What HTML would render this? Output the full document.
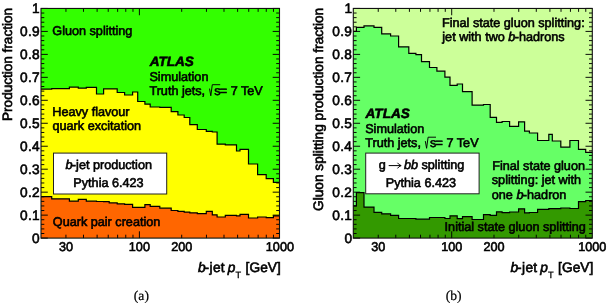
<!DOCTYPE html><html><head><meta charset="utf-8"><title>plot</title>
<style>html,body{margin:0;padding:0;background:#fff;}svg{display:block;will-change:transform}text{font-family:"Liberation Sans",sans-serif;fill:#000;stroke:#000;stroke-width:0.6px;text-rendering:geometricPrecision}</style></head><body>
<svg width="609" height="304" viewBox="0 0 609 304">
<rect width="609" height="304" fill="#fff"/>
<rect x="41.0" y="8.45" width="238.5" height="229.65" fill="#33ff00"/>
<path d="M41.00,238.10 L41.00,89.10 L44.10,89.10 L44.10,89.10 L51.70,89.10 L51.70,88.70 L61.70,88.70 L61.70,88.70 L69.40,88.70 L69.40,87.10 L78.30,87.10 L78.30,88.20 L86.30,88.20 L86.30,87.40 L96.50,87.40 L96.50,94.00 L103.60,94.00 L103.60,88.90 L109.20,88.90 L109.20,88.90 L117.20,88.90 L117.20,92.50 L124.60,92.50 L124.60,95.00 L132.60,95.00 L132.60,92.00 L137.70,92.00 L137.70,101.50 L144.90,101.50 L144.90,104.20 L150.20,104.20 L150.20,107.00 L159.80,107.00 L159.80,107.40 L171.20,107.40 L171.20,111.70 L177.90,111.70 L177.90,115.00 L184.20,115.00 L184.20,117.50 L189.80,117.50 L189.80,124.60 L197.30,124.60 L197.30,129.50 L206.30,129.50 L206.30,131.40 L212.30,131.40 L212.30,132.00 L217.10,132.00 L217.10,144.20 L225.30,144.20 L225.30,144.90 L236.50,144.90 L236.50,151.00 L240.00,151.00 L240.00,149.40 L248.50,149.40 L248.50,164.00 L257.60,164.00 L257.60,174.60 L266.20,174.60 L266.20,178.60 L273.40,178.60 L273.40,182.40 L279.50,182.40 L279.50,238.10 Z" fill="#ffff00"/>
<path d="M41.00,238.10 L41.00,196.70 L44.10,196.70 L44.10,196.70 L51.70,196.70 L51.70,198.80 L61.70,198.80 L61.70,198.80 L69.40,198.80 L69.40,201.10 L78.30,201.10 L78.30,199.30 L86.30,199.30 L86.30,201.10 L96.50,201.10 L96.50,201.50 L103.60,201.50 L103.60,201.60 L109.20,201.60 L109.20,202.90 L117.20,202.90 L117.20,203.80 L124.60,203.80 L124.60,204.30 L132.60,204.30 L132.60,207.40 L137.70,207.40 L137.70,207.40 L144.90,207.40 L144.90,204.60 L150.20,204.60 L150.20,206.30 L159.80,206.30 L159.80,208.20 L171.20,208.20 L171.20,210.50 L177.90,210.50 L177.90,211.40 L184.20,211.40 L184.20,212.10 L189.80,212.10 L189.80,212.80 L197.30,212.80 L197.30,213.70 L206.30,213.70 L206.30,211.40 L212.30,211.40 L212.30,214.80 L217.10,214.80 L217.10,217.00 L225.30,217.00 L225.30,215.40 L236.50,215.40 L236.50,215.90 L240.00,215.90 L240.00,214.30 L248.50,214.30 L248.50,218.00 L257.60,218.00 L257.60,217.00 L266.20,217.00 L266.20,217.70 L273.40,217.70 L273.40,215.80 L279.50,215.80 L279.50,238.10 Z" fill="#ff6600"/>
<path d="M41.00,89.10 L44.10,89.10 L44.10,89.10 L51.70,89.10 L51.70,88.70 L61.70,88.70 L61.70,88.70 L69.40,88.70 L69.40,87.10 L78.30,87.10 L78.30,88.20 L86.30,88.20 L86.30,87.40 L96.50,87.40 L96.50,94.00 L103.60,94.00 L103.60,88.90 L109.20,88.90 L109.20,88.90 L117.20,88.90 L117.20,92.50 L124.60,92.50 L124.60,95.00 L132.60,95.00 L132.60,92.00 L137.70,92.00 L137.70,101.50 L144.90,101.50 L144.90,104.20 L150.20,104.20 L150.20,107.00 L159.80,107.00 L159.80,107.40 L171.20,107.40 L171.20,111.70 L177.90,111.70 L177.90,115.00 L184.20,115.00 L184.20,117.50 L189.80,117.50 L189.80,124.60 L197.30,124.60 L197.30,129.50 L206.30,129.50 L206.30,131.40 L212.30,131.40 L212.30,132.00 L217.10,132.00 L217.10,144.20 L225.30,144.20 L225.30,144.90 L236.50,144.90 L236.50,151.00 L240.00,151.00 L240.00,149.40 L248.50,149.40 L248.50,164.00 L257.60,164.00 L257.60,174.60 L266.20,174.60 L266.20,178.60 L273.40,178.60 L273.40,182.40 L279.50,182.40" fill="none" stroke="#000" stroke-width="1.2" stroke-linejoin="miter"/>
<path d="M41.00,196.70 L44.10,196.70 L44.10,196.70 L51.70,196.70 L51.70,198.80 L61.70,198.80 L61.70,198.80 L69.40,198.80 L69.40,201.10 L78.30,201.10 L78.30,199.30 L86.30,199.30 L86.30,201.10 L96.50,201.10 L96.50,201.50 L103.60,201.50 L103.60,201.60 L109.20,201.60 L109.20,202.90 L117.20,202.90 L117.20,203.80 L124.60,203.80 L124.60,204.30 L132.60,204.30 L132.60,207.40 L137.70,207.40 L137.70,207.40 L144.90,207.40 L144.90,204.60 L150.20,204.60 L150.20,206.30 L159.80,206.30 L159.80,208.20 L171.20,208.20 L171.20,210.50 L177.90,210.50 L177.90,211.40 L184.20,211.40 L184.20,212.10 L189.80,212.10 L189.80,212.80 L197.30,212.80 L197.30,213.70 L206.30,213.70 L206.30,211.40 L212.30,211.40 L212.30,214.80 L217.10,214.80 L217.10,217.00 L225.30,217.00 L225.30,215.40 L236.50,215.40 L236.50,215.90 L240.00,215.90 L240.00,214.30 L248.50,214.30 L248.50,218.00 L257.60,218.00 L257.60,217.00 L266.20,217.00 L266.20,217.70 L273.40,217.70 L273.40,215.80 L279.50,215.80" fill="none" stroke="#000" stroke-width="1.2" stroke-linejoin="miter"/>
<path d="M41.0,238.10h6.8 M279.5,238.10h-6.8 M41.0,233.51h3.3 M279.5,233.51h-3.3 M41.0,228.91h3.3 M279.5,228.91h-3.3 M41.0,224.32h3.3 M279.5,224.32h-3.3 M41.0,219.73h3.3 M279.5,219.73h-3.3 M41.0,215.13h6.8 M279.5,215.13h-6.8 M41.0,210.54h3.3 M279.5,210.54h-3.3 M41.0,205.95h3.3 M279.5,205.95h-3.3 M41.0,201.36h3.3 M279.5,201.36h-3.3 M41.0,196.76h3.3 M279.5,196.76h-3.3 M41.0,192.17h6.8 M279.5,192.17h-6.8 M41.0,187.58h3.3 M279.5,187.58h-3.3 M41.0,182.98h3.3 M279.5,182.98h-3.3 M41.0,178.39h3.3 M279.5,178.39h-3.3 M41.0,173.80h3.3 M279.5,173.80h-3.3 M41.0,169.20h6.8 M279.5,169.20h-6.8 M41.0,164.61h3.3 M279.5,164.61h-3.3 M41.0,160.02h3.3 M279.5,160.02h-3.3 M41.0,155.43h3.3 M279.5,155.43h-3.3 M41.0,150.83h3.3 M279.5,150.83h-3.3 M41.0,146.24h6.8 M279.5,146.24h-6.8 M41.0,141.65h3.3 M279.5,141.65h-3.3 M41.0,137.05h3.3 M279.5,137.05h-3.3 M41.0,132.46h3.3 M279.5,132.46h-3.3 M41.0,127.87h3.3 M279.5,127.87h-3.3 M41.0,123.27h6.8 M279.5,123.27h-6.8 M41.0,118.68h3.3 M279.5,118.68h-3.3 M41.0,114.09h3.3 M279.5,114.09h-3.3 M41.0,109.50h3.3 M279.5,109.50h-3.3 M41.0,104.90h3.3 M279.5,104.90h-3.3 M41.0,100.31h6.8 M279.5,100.31h-6.8 M41.0,95.72h3.3 M279.5,95.72h-3.3 M41.0,91.12h3.3 M279.5,91.12h-3.3 M41.0,86.53h3.3 M279.5,86.53h-3.3 M41.0,81.94h3.3 M279.5,81.94h-3.3 M41.0,77.34h6.8 M279.5,77.34h-6.8 M41.0,72.75h3.3 M279.5,72.75h-3.3 M41.0,68.16h3.3 M279.5,68.16h-3.3 M41.0,63.57h3.3 M279.5,63.57h-3.3 M41.0,58.97h3.3 M279.5,58.97h-3.3 M41.0,54.38h6.8 M279.5,54.38h-6.8 M41.0,49.79h3.3 M279.5,49.79h-3.3 M41.0,45.19h3.3 M279.5,45.19h-3.3 M41.0,40.60h3.3 M279.5,40.60h-3.3 M41.0,36.01h3.3 M279.5,36.01h-3.3 M41.0,31.41h6.8 M279.5,31.41h-6.8 M41.0,26.82h3.3 M279.5,26.82h-3.3 M41.0,22.23h3.3 M279.5,22.23h-3.3 M41.0,17.64h3.3 M279.5,17.64h-3.3 M41.0,13.04h3.3 M279.5,13.04h-3.3 M41.0,8.45h6.8 M279.5,8.45h-6.8 M65.94,238.1v-3.4 M65.94,8.45v3.4 M83.49,238.1v-3.4 M83.49,8.45v3.4 M97.11,238.1v-3.4 M97.11,8.45v3.4 M108.23,238.1v-3.4 M108.23,8.45v3.4 M117.64,238.1v-3.4 M117.64,8.45v3.4 M125.78,238.1v-3.4 M125.78,8.45v3.4 M132.97,238.1v-3.4 M132.97,8.45v3.4 M139.40,238.1v-6.8 M139.40,8.45v6.8 M181.69,238.1v-3.4 M181.69,8.45v3.4 M206.44,238.1v-3.4 M206.44,8.45v3.4 M223.99,238.1v-3.4 M223.99,8.45v3.4 M237.61,238.1v-3.4 M237.61,8.45v3.4 M248.73,238.1v-3.4 M248.73,8.45v3.4 M258.14,238.1v-3.4 M258.14,8.45v3.4 M266.28,238.1v-3.4 M266.28,8.45v3.4 M273.47,238.1v-3.4 M273.47,8.45v3.4" stroke="#000" stroke-width="0.95" fill="none"/>
<rect x="41.0" y="8.45" width="238.5" height="229.65" fill="none" stroke="#111" stroke-width="1.1"/>
<text x="40.00" y="242.80" text-anchor="end" font-size="13.7" letter-spacing="0.3">0</text>
<text x="40.00" y="219.83" text-anchor="end" font-size="13.7" letter-spacing="0.3">0.1</text>
<text x="40.00" y="196.87" text-anchor="end" font-size="13.7" letter-spacing="0.3">0.2</text>
<text x="40.00" y="173.90" text-anchor="end" font-size="13.7" letter-spacing="0.3">0.3</text>
<text x="40.00" y="150.94" text-anchor="end" font-size="13.7" letter-spacing="0.3">0.4</text>
<text x="40.00" y="127.97" text-anchor="end" font-size="13.7" letter-spacing="0.3">0.5</text>
<text x="40.00" y="105.01" text-anchor="end" font-size="13.7" letter-spacing="0.3">0.6</text>
<text x="40.00" y="82.05" text-anchor="end" font-size="13.7" letter-spacing="0.3">0.7</text>
<text x="40.00" y="59.08" text-anchor="end" font-size="13.7" letter-spacing="0.3">0.8</text>
<text x="40.00" y="36.11" text-anchor="end" font-size="13.7" letter-spacing="0.3">0.9</text>
<text x="40.00" y="13.15" text-anchor="end" font-size="13.7" letter-spacing="0.3">1</text>
<text x="65.94" y="250.8" text-anchor="middle" font-size="12.65">30</text>
<text x="139.40" y="250.8" text-anchor="middle" font-size="12.65">100</text>
<text x="181.69" y="250.8" text-anchor="middle" font-size="12.65">200</text>
<text x="279.90" y="250.8" text-anchor="middle" font-size="12.65">1000</text>
<text y="272.4" font-size="13.7"><tspan x="197.90" font-style="italic">b</tspan><tspan x="204.60" letter-spacing="0.35">-jet</tspan><tspan x="227.70" font-style="italic">p</tspan><tspan x="235.60" font-size="9.2" dy="5.7" style="stroke-width:0.3px">T</tspan><tspan x="245.50" dy="-5.7" letter-spacing="0.1">[GeV]</tspan></text>
<rect x="353.3" y="8.45" width="238.99999999999994" height="229.65" fill="#ccff99"/>
<path d="M353.30,238.10 L353.30,31.30 L356.40,31.30 L356.40,27.30 L364.00,27.30 L364.00,25.90 L374.00,25.90 L374.00,27.30 L381.70,27.30 L381.70,33.90 L390.60,33.90 L390.60,36.00 L398.60,36.00 L398.60,46.80 L408.80,46.80 L408.80,53.40 L415.90,53.40 L415.90,54.70 L421.50,54.70 L421.50,61.60 L429.50,61.60 L429.50,67.50 L436.90,67.50 L436.90,71.20 L444.90,71.20 L444.90,77.20 L450.00,77.20 L450.00,85.40 L457.20,85.40 L457.20,84.00 L462.50,84.00 L462.50,91.70 L472.10,91.70 L472.10,105.10 L483.50,105.10 L483.50,104.50 L490.20,104.50 L490.20,117.40 L496.50,117.40 L496.50,122.40 L502.10,122.40 L502.10,121.50 L509.60,121.50 L509.60,126.30 L518.60,126.30 L518.60,121.80 L524.60,121.80 L524.60,131.10 L529.40,131.10 L529.40,133.00 L537.60,133.00 L537.60,140.50 L548.80,140.50 L548.80,134.30 L552.30,134.30 L552.30,141.00 L560.80,141.00 L560.80,147.10 L569.90,147.10 L569.90,140.50 L578.50,140.50 L578.50,149.40 L585.70,149.40 L585.70,152.30 L592.30,152.30 L592.30,238.10 Z" fill="#66ff66"/>
<path d="M353.30,238.10 L353.30,205.80 L356.40,205.80 L356.40,192.60 L364.00,192.60 L364.00,207.10 L374.00,207.10 L374.00,212.30 L381.70,212.30 L381.70,213.80 L390.60,213.80 L390.60,215.30 L398.60,215.30 L398.60,218.50 L408.80,218.50 L408.80,218.50 L415.90,218.50 L415.90,219.20 L421.50,219.20 L421.50,219.20 L429.50,219.20 L429.50,217.50 L436.90,217.50 L436.90,217.50 L444.90,217.50 L444.90,218.50 L450.00,218.50 L450.00,215.80 L457.20,215.80 L457.20,218.70 L462.50,218.70 L462.50,216.70 L472.10,216.70 L472.10,219.50 L483.50,219.50 L483.50,214.70 L490.20,214.70 L490.20,215.40 L496.50,215.40 L496.50,211.80 L502.10,211.80 L502.10,212.70 L509.60,212.70 L509.60,212.00 L518.60,212.00 L518.60,208.80 L524.60,208.80 L524.60,212.80 L529.40,212.80 L529.40,212.50 L537.60,212.50 L537.60,209.30 L548.80,209.30 L548.80,208.60 L552.30,208.60 L552.30,208.70 L560.80,208.70 L560.80,208.00 L569.90,208.00 L569.90,208.50 L578.50,208.50 L578.50,201.70 L585.70,201.70 L585.70,200.50 L592.30,200.50 L592.30,238.10 Z" fill="#339900"/>
<path d="M353.30,31.30 L356.40,31.30 L356.40,27.30 L364.00,27.30 L364.00,25.90 L374.00,25.90 L374.00,27.30 L381.70,27.30 L381.70,33.90 L390.60,33.90 L390.60,36.00 L398.60,36.00 L398.60,46.80 L408.80,46.80 L408.80,53.40 L415.90,53.40 L415.90,54.70 L421.50,54.70 L421.50,61.60 L429.50,61.60 L429.50,67.50 L436.90,67.50 L436.90,71.20 L444.90,71.20 L444.90,77.20 L450.00,77.20 L450.00,85.40 L457.20,85.40 L457.20,84.00 L462.50,84.00 L462.50,91.70 L472.10,91.70 L472.10,105.10 L483.50,105.10 L483.50,104.50 L490.20,104.50 L490.20,117.40 L496.50,117.40 L496.50,122.40 L502.10,122.40 L502.10,121.50 L509.60,121.50 L509.60,126.30 L518.60,126.30 L518.60,121.80 L524.60,121.80 L524.60,131.10 L529.40,131.10 L529.40,133.00 L537.60,133.00 L537.60,140.50 L548.80,140.50 L548.80,134.30 L552.30,134.30 L552.30,141.00 L560.80,141.00 L560.80,147.10 L569.90,147.10 L569.90,140.50 L578.50,140.50 L578.50,149.40 L585.70,149.40 L585.70,152.30 L592.30,152.30" fill="none" stroke="#000" stroke-width="1.2" stroke-linejoin="miter"/>
<path d="M353.30,205.80 L356.40,205.80 L356.40,192.60 L364.00,192.60 L364.00,207.10 L374.00,207.10 L374.00,212.30 L381.70,212.30 L381.70,213.80 L390.60,213.80 L390.60,215.30 L398.60,215.30 L398.60,218.50 L408.80,218.50 L408.80,218.50 L415.90,218.50 L415.90,219.20 L421.50,219.20 L421.50,219.20 L429.50,219.20 L429.50,217.50 L436.90,217.50 L436.90,217.50 L444.90,217.50 L444.90,218.50 L450.00,218.50 L450.00,215.80 L457.20,215.80 L457.20,218.70 L462.50,218.70 L462.50,216.70 L472.10,216.70 L472.10,219.50 L483.50,219.50 L483.50,214.70 L490.20,214.70 L490.20,215.40 L496.50,215.40 L496.50,211.80 L502.10,211.80 L502.10,212.70 L509.60,212.70 L509.60,212.00 L518.60,212.00 L518.60,208.80 L524.60,208.80 L524.60,212.80 L529.40,212.80 L529.40,212.50 L537.60,212.50 L537.60,209.30 L548.80,209.30 L548.80,208.60 L552.30,208.60 L552.30,208.70 L560.80,208.70 L560.80,208.00 L569.90,208.00 L569.90,208.50 L578.50,208.50 L578.50,201.70 L585.70,201.70 L585.70,200.50 L592.30,200.50" fill="none" stroke="#000" stroke-width="1.2" stroke-linejoin="miter"/>
<path d="M353.3,238.10h6.8 M592.3,238.10h-6.8 M353.3,233.51h3.3 M592.3,233.51h-3.3 M353.3,228.91h3.3 M592.3,228.91h-3.3 M353.3,224.32h3.3 M592.3,224.32h-3.3 M353.3,219.73h3.3 M592.3,219.73h-3.3 M353.3,215.13h6.8 M592.3,215.13h-6.8 M353.3,210.54h3.3 M592.3,210.54h-3.3 M353.3,205.95h3.3 M592.3,205.95h-3.3 M353.3,201.36h3.3 M592.3,201.36h-3.3 M353.3,196.76h3.3 M592.3,196.76h-3.3 M353.3,192.17h6.8 M592.3,192.17h-6.8 M353.3,187.58h3.3 M592.3,187.58h-3.3 M353.3,182.98h3.3 M592.3,182.98h-3.3 M353.3,178.39h3.3 M592.3,178.39h-3.3 M353.3,173.80h3.3 M592.3,173.80h-3.3 M353.3,169.20h6.8 M592.3,169.20h-6.8 M353.3,164.61h3.3 M592.3,164.61h-3.3 M353.3,160.02h3.3 M592.3,160.02h-3.3 M353.3,155.43h3.3 M592.3,155.43h-3.3 M353.3,150.83h3.3 M592.3,150.83h-3.3 M353.3,146.24h6.8 M592.3,146.24h-6.8 M353.3,141.65h3.3 M592.3,141.65h-3.3 M353.3,137.05h3.3 M592.3,137.05h-3.3 M353.3,132.46h3.3 M592.3,132.46h-3.3 M353.3,127.87h3.3 M592.3,127.87h-3.3 M353.3,123.27h6.8 M592.3,123.27h-6.8 M353.3,118.68h3.3 M592.3,118.68h-3.3 M353.3,114.09h3.3 M592.3,114.09h-3.3 M353.3,109.50h3.3 M592.3,109.50h-3.3 M353.3,104.90h3.3 M592.3,104.90h-3.3 M353.3,100.31h6.8 M592.3,100.31h-6.8 M353.3,95.72h3.3 M592.3,95.72h-3.3 M353.3,91.12h3.3 M592.3,91.12h-3.3 M353.3,86.53h3.3 M592.3,86.53h-3.3 M353.3,81.94h3.3 M592.3,81.94h-3.3 M353.3,77.34h6.8 M592.3,77.34h-6.8 M353.3,72.75h3.3 M592.3,72.75h-3.3 M353.3,68.16h3.3 M592.3,68.16h-3.3 M353.3,63.57h3.3 M592.3,63.57h-3.3 M353.3,58.97h3.3 M592.3,58.97h-3.3 M353.3,54.38h6.8 M592.3,54.38h-6.8 M353.3,49.79h3.3 M592.3,49.79h-3.3 M353.3,45.19h3.3 M592.3,45.19h-3.3 M353.3,40.60h3.3 M592.3,40.60h-3.3 M353.3,36.01h3.3 M592.3,36.01h-3.3 M353.3,31.41h6.8 M592.3,31.41h-6.8 M353.3,26.82h3.3 M592.3,26.82h-3.3 M353.3,22.23h3.3 M592.3,22.23h-3.3 M353.3,17.64h3.3 M592.3,17.64h-3.3 M353.3,13.04h3.3 M592.3,13.04h-3.3 M353.3,8.45h6.8 M592.3,8.45h-6.8 M378.24,238.1v-3.4 M378.24,8.45v3.4 M395.79,238.1v-3.4 M395.79,8.45v3.4 M409.41,238.1v-3.4 M409.41,8.45v3.4 M420.53,238.1v-3.4 M420.53,8.45v3.4 M429.94,238.1v-3.4 M429.94,8.45v3.4 M438.08,238.1v-3.4 M438.08,8.45v3.4 M445.27,238.1v-3.4 M445.27,8.45v3.4 M451.70,238.1v-6.8 M451.70,8.45v6.8 M493.99,238.1v-3.4 M493.99,8.45v3.4 M518.74,238.1v-3.4 M518.74,8.45v3.4 M536.29,238.1v-3.4 M536.29,8.45v3.4 M549.91,238.1v-3.4 M549.91,8.45v3.4 M561.03,238.1v-3.4 M561.03,8.45v3.4 M570.44,238.1v-3.4 M570.44,8.45v3.4 M578.58,238.1v-3.4 M578.58,8.45v3.4 M585.77,238.1v-3.4 M585.77,8.45v3.4" stroke="#000" stroke-width="0.95" fill="none"/>
<rect x="353.3" y="8.45" width="238.99999999999994" height="229.65" fill="none" stroke="#111" stroke-width="1.1"/>
<text x="352.30" y="242.80" text-anchor="end" font-size="13.7" letter-spacing="0.3">0</text>
<text x="352.30" y="219.83" text-anchor="end" font-size="13.7" letter-spacing="0.3">0.1</text>
<text x="352.30" y="196.87" text-anchor="end" font-size="13.7" letter-spacing="0.3">0.2</text>
<text x="352.30" y="173.90" text-anchor="end" font-size="13.7" letter-spacing="0.3">0.3</text>
<text x="352.30" y="150.94" text-anchor="end" font-size="13.7" letter-spacing="0.3">0.4</text>
<text x="352.30" y="127.97" text-anchor="end" font-size="13.7" letter-spacing="0.3">0.5</text>
<text x="352.30" y="105.01" text-anchor="end" font-size="13.7" letter-spacing="0.3">0.6</text>
<text x="352.30" y="82.05" text-anchor="end" font-size="13.7" letter-spacing="0.3">0.7</text>
<text x="352.30" y="59.08" text-anchor="end" font-size="13.7" letter-spacing="0.3">0.8</text>
<text x="352.30" y="36.11" text-anchor="end" font-size="13.7" letter-spacing="0.3">0.9</text>
<text x="352.30" y="13.15" text-anchor="end" font-size="13.7" letter-spacing="0.3">1</text>
<text x="378.24" y="250.8" text-anchor="middle" font-size="12.65">30</text>
<text x="451.70" y="250.8" text-anchor="middle" font-size="12.65">100</text>
<text x="493.99" y="250.8" text-anchor="middle" font-size="12.65">200</text>
<text x="592.20" y="250.8" text-anchor="middle" font-size="12.65">1000</text>
<text y="272.4" font-size="13.7"><tspan x="510.40" font-style="italic">b</tspan><tspan x="517.10" letter-spacing="0.35">-jet</tspan><tspan x="540.20" font-style="italic">p</tspan><tspan x="548.10" font-size="9.2" dy="5.7" style="stroke-width:0.3px">T</tspan><tspan x="558.00" dy="-5.7" letter-spacing="0.1">[GeV]</tspan></text>
<text transform="translate(12.4,8.0) rotate(-90)" text-anchor="end" font-size="13.55">Production fraction</text>
<text transform="translate(322.8,7.8) rotate(-90)" text-anchor="end" font-size="13.7">Gluon splitting production fraction</text>
<text x="52.3" y="34.9" font-size="12.65">Gluon splitting</text>
 <text x="149.7" y="66.0" font-size="13.55" font-weight="bold" font-style="italic">ATLAS</text>
<text x="149.4" y="80.7" font-size="12.65">Simulation</text>
<text x="149.4" y="94.9" font-size="12.65">Truth jets, </text><path d="M209.50,88.60 l1.3,7.2 l1.5,-11.1 h7.9" fill="none" stroke="#000" stroke-width="0.95" stroke-linejoin="miter"/><text x="214.30" y="94.9" font-size="12.65">s</text><text x="219.80" y="94.9" font-size="12.65">= 7 TeV</text>
<text x="52.3" y="116.3" font-size="12.65">Heavy flavour</text>
<text x="52.5" y="129.7" font-size="12.65">quark excitation</text>
<rect x="53.5" y="153.1" width="113.2" height="40.9" fill="#fff" stroke="#222" stroke-width="1"/>
<text x="108.7" y="168.9" text-anchor="middle" font-size="12.65"><tspan font-style="italic">b</tspan><tspan dx="-0.6">-jet production</tspan></text>
<text x="108.5" y="186.7" text-anchor="middle" font-size="12.65">Pythia 6.423</text>
<text x="52.8" y="226.2" font-size="12.65">Quark pair creation</text>
<text x="141.4" y="299.7" text-anchor="middle" font-size="13.6" style="font-family:'Liberation Serif',serif;stroke-width:0.2px">(a)</text>
<text x="442.0" y="26.5" font-size="12.65">Final state gluon splitting:</text>
<text x="442.3" y="41.0" font-size="12.65">jet with two <tspan font-style="italic">b</tspan><tspan dx="-0.6">-hadrons</tspan></text>
<text x="365.6" y="118.1" font-size="13.55" font-weight="bold" font-style="italic">ATLAS</text>
<text x="365.2" y="133.0" font-size="12.65">Simulation</text>
<text x="365.2" y="147.4" font-size="12.65">Truth jets, </text><path d="M425.30,141.10 l1.3,7.2 l1.5,-11.1 h7.9" fill="none" stroke="#000" stroke-width="0.95" stroke-linejoin="miter"/><text x="430.10" y="147.4" font-size="12.65">s</text><text x="435.60" y="147.4" font-size="12.65">= 7 TeV</text>
<rect x="365.7" y="153.1" width="113.4" height="40.7" fill="#fff" stroke="#222" stroke-width="1"/>
<text x="378.7" y="168.6" font-size="12.65">g</text>
<path d="M388.7,165.6 H400.7 M397.5,162.8 Q398.8,164.9 401.2,165.6 Q398.8,166.3 397.5,168.4" fill="none" stroke="#000" stroke-width="1"/>
<text x="403.9" y="168.6" font-size="12.65"><tspan font-style="italic">bb</tspan> splitting</text>
<text x="420.9" y="186.7" text-anchor="middle" font-size="12.65">Pythia 6.423</text>
<text x="492.2" y="170.4" font-size="12.65">Final state gluon</text>
<text x="491.8" y="184.4" font-size="12.65">splitting: jet with</text>
<text x="491.8" y="198.8" font-size="12.65">one <tspan font-style="italic">b</tspan><tspan dx="-0.6">-hadron</tspan></text>
<text x="444.6" y="231.0" font-size="12.65">Initial state gluon splitting</text>
<text x="453.7" y="299.7" text-anchor="middle" font-size="13.6" style="font-family:'Liberation Serif',serif;stroke-width:0.2px">(b)</text>
</svg></body></html>
